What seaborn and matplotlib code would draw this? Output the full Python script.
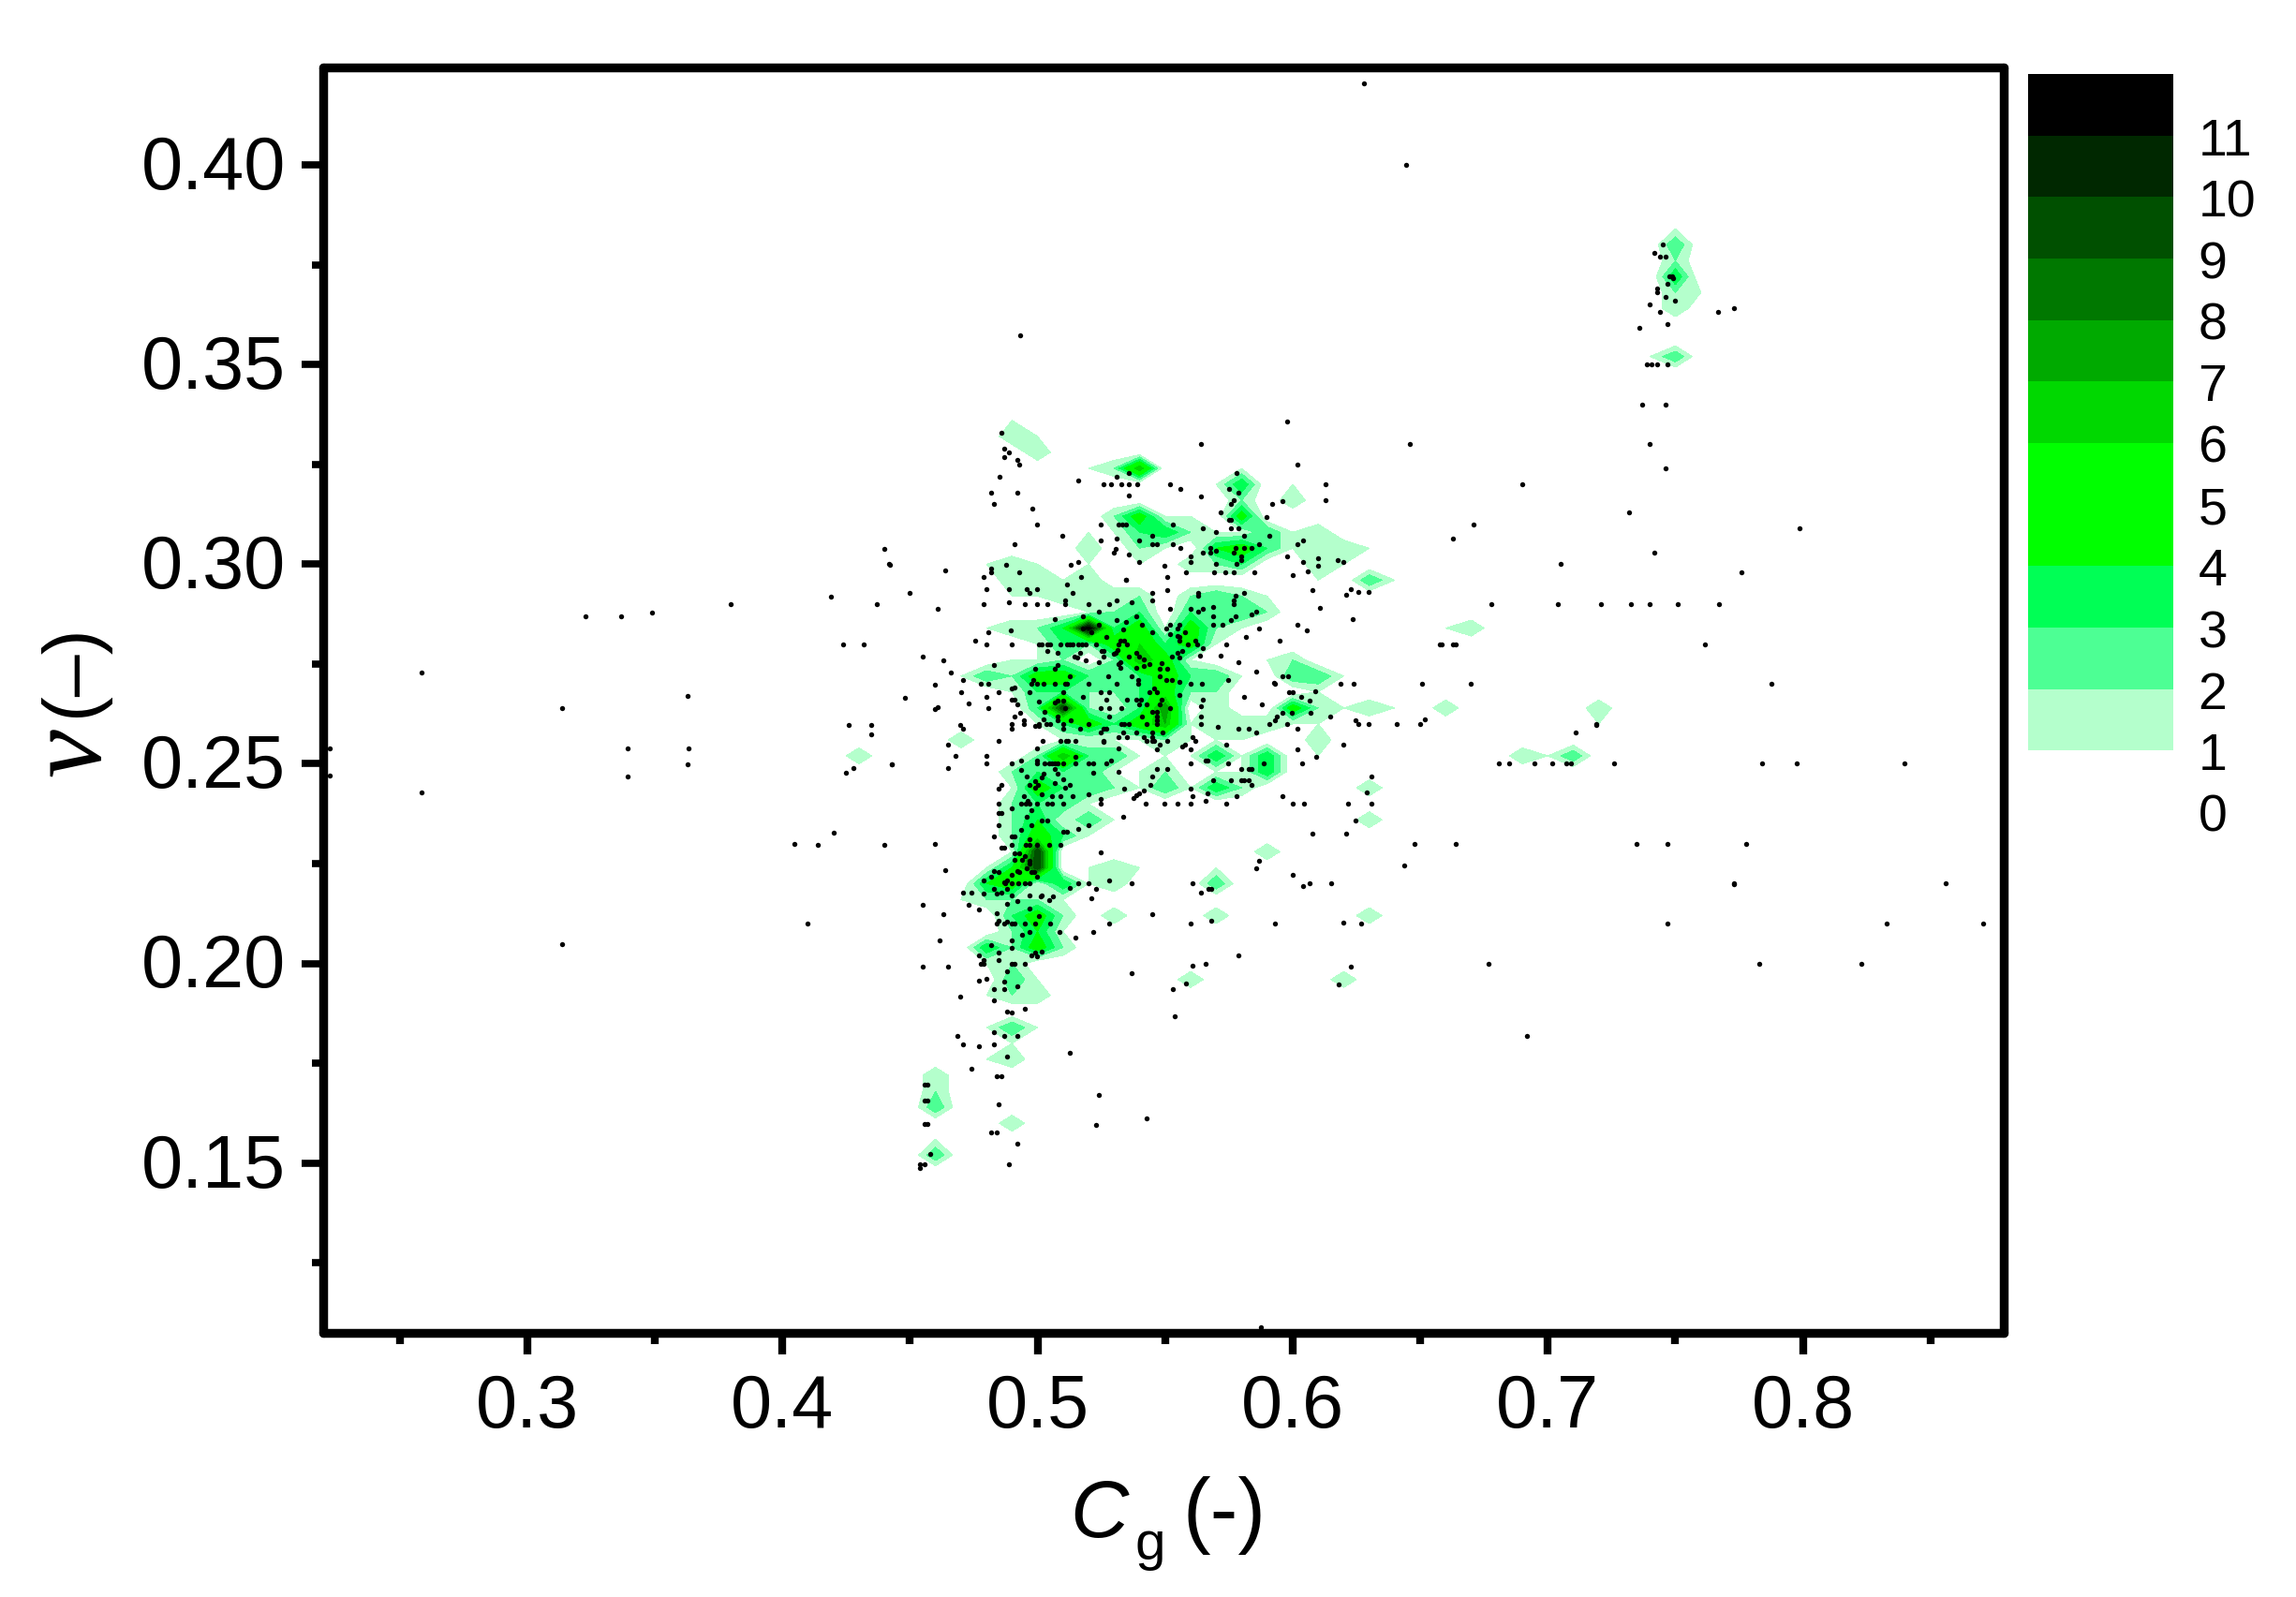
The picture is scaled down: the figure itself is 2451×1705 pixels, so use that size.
import matplotlib
matplotlib.use("Agg")
import matplotlib.pyplot as plt
from matplotlib.colors import ListedColormap, BoundaryNorm
from matplotlib.ticker import MultipleLocator, FormatStrFormatter
from matplotlib.transforms import ScaledTranslation
import numpy as np
import seaborn as sns


#------------------------------------------------------------------------------
#               Count grid (only non empty nodes are listed)
#------------------------------------------------------------------------------
grid_nu = [0.384, 0.380, 0.376, 0.372, 0.368, 0.364, 0.352, 0.336, 0.332, 0.328,
           0.324, 0.320, 0.316, 0.312, 0.308, 0.304, 0.300, 0.296, 0.292, 0.288,
           0.284, 0.280, 0.276, 0.272, 0.268, 0.264, 0.260, 0.256, 0.252, 0.248,
           0.244, 0.240, 0.236, 0.232, 0.228, 0.224, 0.220, 0.216, 0.212, 0.208,
           0.204, 0.200, 0.196, 0.192, 0.184, 0.180, 0.176, 0.172, 0.168, 0.164,
           0.160, 0.156, 0.152]

grid_cg = [
    [.75], [.75], [.75], [.75], [.75, .76], [.75], [.74, .75], [.49], [.49, .50], [.50],
    [.52, .53, .54, .58],
    [.57, .58, .60],
    [.58, .60],
    [.53, .54, .55, .56, .58],
    [.52, .53, .54, .55, .56, .57, .58, .59, .60, .61],
    [.52, .54, .55, .57, .58, .59, .60, .61, .62, .63],
    [.48, .49, .50, .52, .54, .56, .57, .58, .61, .62],
    [.49, .50, .51, .52, .61, .63, .64],
    [.49, .50, .51, .52, .53, .54, .56, .57, .58, .59],
    [.52, .53, .54, .56, .57, .58, .59],
    [.48, .49, .50, .51, .52, .53, .54, .55, .56, .57, .58, .66, .67],
    [.50, .51, .52, .53, .54, .55, .56, .57, .58],
    [.49, .50, .51, .53, .54, .55, .56, .59, .60],
    [.47, .48, .49, .50, .51, .52, .53, .54, .55, .56, .57, .58, .60, .61, .62],
    [.49, .50, .51, .52, .53, .54, .55, .56, .57, .61],
    [.50, .51, .52, .53, .54, .55, .57, .60, .61, .62, .63, .64, .66, .72],
    [.50, .51, .52, .53, .54, .55, .56, .57, .58, .59, .60, .61, .72],
    [.47, .51, .52, .53, .54, .55, .56, .57, .58, .61],
    [.43, .50, .51, .52, .53, .54, .55, .56, .57, .58, .59, .61, .69, .70, .71],
    [.49, .50, .51, .52, .53, .54, .55, .57, .58, .59],
    [.49, .50, .51, .52, .53, .54, .55, .56, .57, .58, .63],
    [.49, .50, .51, .52],
    [.49, .50, .51, .52, .53, .63],
    [.49, .50, .51, .52],
    [.49, .50, .59],
    [.48, .49, .50, .52, .53, .54, .57],
    [.48, .49, .50, .51, .52, .53, .57],
    [.47, .48, .49, .50, .51],
    [.49, .50, .51, .53, .57, .63],
    [.49, .50, .51],
    [.48, .49, .50, .51],
    [.48, .49],
    [.49, .50, .56, .62],
    [.48, .49, .50],
    [.48, .49, .50],
    [.49],
    [.48, .49],
    [.46], [.46], [.46], [.49], [.46], [.46],
]

grid_n = [
    [1], [3], [2], [4], [2, 1], [2], [1, 3], [1], [2, 1], [2],
    [1, 2, 7, 1],
    [1, 4, 1],
    [2, 2],
    [2, 5, 1, 1, 5],
    [1, 1, 3, 4, 2, 1, 1, 3, 1, 2],
    [2, 2, 1, 4, 5, 3, 1, 2, 2, 1],
    [1, 2, 1, 1, 1, 2, 2, 3, 2, 1],
    [2, 2, 1, 2, 1, 3, 1],
    [1, 1, 2, 2, 2, 2, 2, 3, 2, 1],
    [1, 2, 3, 3, 3, 3, 2],
    [1, 2, 2, 4, 12, 3, 5, 1, 5, 2, 1, 1, 2],
    [1, 3, 2, 5, 6, 3, 5, 1, 1],
    [1, 1, 2, 2, 7, 5, 1, 1, 2],
    [1, 3, 2, 5, 5, 3, 3, 3, 5, 3, 3, 1, 3, 3, 1],
    [1, 3, 3, 2, 2, 3, 5, 2, 2, 1],
    [3, 10, 2, 1, 3, 8, 2, 5, 2, 1, 2, 1, 2, 2],
    [1, 3, 5, 3, 5, 7, 1, 2, 2, 2, 1, 1, 1],
    [2, 1, 1, 1, 1, 2, 1, 1, 1, 2],
    [2, 2, 7, 3, 3, 1, 1, 1, 4, 1, 4, 1, 2, 1, 3],
    [2, 3, 3, 3, 1, 1, 2, 1, 1, 4],
    [1, 5, 3, 3, 2, 1, 3, 1, 4, 2, 2],
    [2, 3, 3, 1],
    [2, 4, 1, 3, 1, 2],
    [2, 5, 3, 1],
    [1, 10, 2],
    [1, 4, 10, 1, 2, 1, 1],
    [4, 5, 1, 4, 1, 2, 3],
    [1, 2, 2, 2, 1],
    [3, 5, 2, 2, 2, 2],
    [2, 4, 1],
    [4, 2, 5, 2],
    [1, 2],
    [3, 1, 2, 2],
    [1, 2, 2],
    [1, 3, 1],
    [1],
    [1, 2],
    [2], [2], [3], [2], [1], [3],
]

band_levels = [1, 2, 3, 4, 6, 7, 8, 9, 10, 11, 12]
band_colors = ["#B4FFCC", "#4DFF94", "#00FF55", "#00FF00", "#00D800", "#00AA00",
               "#007800", "#005000", "#002800", "#000000"]
bar_labels = ["0", "1", "2", "3", "4", "5", "6", "7", "8", "9", "10", "11"]

#------------------------------------------------------------------------------
#               Measured points
#------------------------------------------------------------------------------
# rows where many points share one value
row_nu = [0.35, 0.32, 0.31, 0.29, 0.28, 0.27, 0.26, 0.25, 0.24, 0.23, 0.22, 0.21, 0.20]
row_cg = [
    [.7389, .7408, .7429, .7469],
    [.5258, .5289, .5329, .5358, .5389, .6128],
    [.4997, .5249, .5319, .5333, .5347, .5530],
    [.4369, .6778, .7038, .7209, .7327, .7400, .7510, .7669],
    [.480, .490, .5007, .5017, .5038, .505, .5089, .5114, .5126, .5139, .516, .5174,
     .5188, .5229, .5319, .535, .5588, .5627, .5739, .6577, .6585, .6628, .6640, .7616],
    [.4779, .4808, .4977, .4997, .5025, .5068, .5108, .5117, .5199, .5309, .5396,
     .5599, .5645, .5931, .6188, .6238, .6508, .6699, .7878],
    [.4897, .4948, .5007, .5034, .505, .5099, .5199, .5328, .534, .5358, .5427, .5467,
     .5639, .5910, .5979, .6258, .6297, .6408, .6499, .7188],
    [.48, .4899, .4997, .5029, .5044, .5056, .5068, .508, .5099, .5148, .5199, .5217,
     .5269, .5599, .5747, .5887, .6038, .6809, .6848, .6947, .7018, .7074, .7089,
     .7258, .7839, .7977, .8399],
    [.4848, .4937, .4952, .4968, .4997, .5038, .5058, .5099, .5248, .5425, .5498,
     .5548, .5599, .5738, .6, .6046, .6218, .6309],
    [.4597, .4048, .6638, .7348, .7468, .7779, .6478],
    [.4873, .4897, .4924, .4949, .4968, .5159, .5199, .5368, .5609, .6068, .6149,
     .7728, .8558],
    [.4097, .4839, .4869, .4897, .4909, .4949, .4989, .5048, .5279, .5599, .5930,
     .6268, .7468, .8328, .8707],
    [.4777, .4787, .4897, .4909, .4949, .5658, .6769, .7828, .8228],
]

points_top = [
    (.628, .4203), (.6446, .40), (.493, .3572), (.7449, .3801), (.7419, .3780), (.7438, .3770),
    (.7460, .3770), (.7478, .3721), (.7488, .3722), (.7490, .3716), (.7469, .3701), (.7429, .3690),
    (.7429, .3680), (.7460, .3669), (.7499, .3660), (.7400, .3651), (.7439, .3631), (.7668, .3631),
    (.7728, .3640), (.7469, .3601), (.7359, .3591), (.7368, .3400), (.7460, .3400), (.7400, .3300),
    (.7460, .3240), (.6898, .3200), (.7319, .3130), (.6710, .3099), (.7988, .3090), (.6629, .3063),
    (.7419, .3030), (.7049, .3000), (.7759, .2979), (.7188, .2598), (.7109, .2578), (.5877, .1090),
]

points_upper = [
    (.5979, .3357), (.4858, .3330), (.5639, .3300), (.6458, .3300), (.4869, .3289), (.4889, .3280),
    (.4869, .3269), (.4919, .3260), (.4928, .3249), (.6020, .3249), (.5780, .3229), (.5358, .3229),
    (.5309, .3219), (.4850, .3220), (.5159, .3210), (.5518, .3200), (.5559, .3189), (.5749, .3189),
    (.4817, .3180), (.4919, .3180), (.5789, .3180), (.5358, .3172), (.5639, .3170), (.5768, .3160),
    (.5959, .3159), (.6128, .3160), (.5757, .3150), (.4829, .3150), (.5919, .3150), (.4978, .3139),
    (.5718, .3129), (.5898, .3119), (.5749, .3110), (.5759, .3110), (.5649, .3090), (.5757, .3090),
    (.5789, .3090), (.5698, .3080), (.5450, .3071), (.5810, .3071), (.5909, .3071), (.5098, .3070),
    (.5309, .3064), (.5249, .3060), (.5398, .3060), (.6039, .3060), (.4909, .3050), (.5449, .3050),
    (.5467, .3050), (.5530, .3050), (.5869, .3050), (.6020, .3050), (.5559, .3040), (.5308, .3039),
    (.5677, .3040), (.5778, .3040), (.5810, .3040), (.5839, .3040), (.5298, .3030), (.5649, .3030),
    (.5677, .3030), (.5698, .3033), (.5768, .3030), (.5358, .3024), (.5600, .3020), (.5799, .3020),
    (.5979, .3020), (.6098, .3016), (.5799, .3010), (.5600, .3005), (.6176, .3010), (.6197, .3005),
    (.6039, .3005), (.5398, .3005), (.5780, .3000), (.5698, .3000), (.5159, .3006), (.5129, .2998),
    (.4878, .2999), (.4817, .2990), (.4638, .2985), (.6098, .2995), (.5499, .2995), (.442, .2999),
    (.4817, .2979), (.4928, .2979), (.5580, .2979), (.5691, .2979), (.5737, .2979), (.5768, .2979),
    (.5848, .2979), (.6058, .2982), (.6000, .2973), (.4789, .2969), (.5169, .2969), (.5508, .2967),
    (.5347, .2960), (.5346, .2961), (.5117, .2949),
]

points_core_a = [
    (.4799, .2938), (.4889, .2938), (.4958, .2938), (.4998, .2938), (.4967, .2928), (.5139, .2928),
    (.5448, .2928), (.5629, .2928), (.5809, .2928), (.5509, .2936), (.6077, .2935), (.6228, .2938),
    (.6257, .2930), (.6298, .2930), (.6208, .2924), (.5629, .2920), (.5778, .2920), (.5768, .2909),
    (.5108, .2909), (.5309, .2909), (.5448, .2909), (.4787, .2900), (.4888, .2905), (.4949, .2900),
    (.4997, .2900), (.5038, .2900), (.5108, .2900), (.5199, .2900), (.5279, .2900), (.5368, .2905),
    (.5768, .2900), (.5518, .2889), (.5599, .2889), (.5649, .2889), (.5687, .2892), (.6108, .2890),
    (.5239, .2880), (.5629, .2880), (.5857, .2880), (.5837, .2873), (.5778, .2869), (.5687, .2869),
    (.5388, .2869), (.5757, .2859), (.5309, .2859), (.5348, .2855), (.5068, .2862), (.6237, .2862),
    (.5179, .2869), (.5239, .2849), (.5408, .2849), (.5518, .2849), (.5557, .2849), (.5687, .2849),
    (.5726, .2849), (.6018, .2848), (.5506, .2838), (.5548, .2838), (.4896, .2835), (.5179, .2838),
    (.5337, .2836), (.5868, .2838), (.6057, .2835), (.4808, .2829), (.5209, .2829), (.5448, .2829),
    (.5578, .2829), (.5269, .2819), (.5518, .2824), (.5548, .2820), (.5557, .2819), (.5817, .2819),
    (.4756, .2808), (.5325, .2808), (.5340, .2808), (.5557, .2808), (.5618, .2808), (.5947, .2808),
    (.5649, .2789), (.5252, .2783), (.5258, .2783), (.5313, .2785), (.5567, .2783), (.5038, .2783),
    (.5388, .2779), (.5306, .2779), (.5078, .2777), (.5168, .2779), (.5548, .2777), (.5298, .2775),
    (.5258, .2769), (.5145, .2769), (.5157, .2767), (.5398, .2769), (.5356, .2769), (.5528, .2769),
    (.5557, .2767), (.5638, .2772), (.5716, .2772), (.5188, .2760), (.5417, .2762), (.5787, .2755),
    (.5239, .2755), (.5487, .2753), (.5325, .2755), (.5317, .2750), (.5437, .2750), (.5078, .2748),
    (.4829, .2748), (.5417, .2744), (.5388, .2740), (.5068, .2739), (.5325, .2740), (.5478, .2739),
    (.5509, .2739), (.4989, .2738), (.5858, .2730), (.5127, .2719), (.5278, .2719), (.5368, .2719),
    (.5478, .2719), (.4982, .2711), (.5396, .2709), (.5506, .2709), (.5528, .2709), (.5557, .2705),
    (.5747, .2709), (.5959, .2719), (.5983, .2719), (.5928, .2703),
]

points_core_b = [
    (.5457, .2689), (.4897, .2689), (.4909, .2691), (.5248, .2679), (.5279, .2679), (.5437, .2679),
    (.5468, .2679), (.4848, .2679), (.4968, .2679), (.5099, .2679), (.5986, .2679), (.6, .2679),
    (.6088, .2681), (.5557, .2673), (.4799, .2668), (.5178, .2668), (.5810, .2668), (.6034, .2668),
    (.4897, .2660), (.4909, .2660), (.5007, .2656), (.5077, .2658), (.5099, .2658), (.5269, .2660),
    (.5349, .2660), (.5388, .2660), (.5407, .2660), (.5487, .2660), (.5649, .2660), (.6067, .2658),
    (.4919, .2648), (.5068, .2654), (.5398, .2650), (.5428, .2650), (.5478, .2648), (.5878, .2650),
    (.5639, .2644), (.4808, .2639), (.5108, .2639), (.5248, .2639), (.5279, .2639), (.5327, .2639),
    (.5518, .2639), (.5029, .2631), (.4930, .2629), (.5450, .2630), (.5467, .2630), (.5998, .2629),
    (.5959, .2629), (.6069, .2629), (.4909, .2619), (.5279, .2619), (.5408, .2619), (.5080, .2619),
    (.5467, .2619), (.5639, .2619), (.6148, .2619), (.5939, .2619), (.5025, .2611), (.4948, .2608),
    (.5078, .2608), (.5467, .2609), (.5930, .2609), (.6248, .2609), (.6518, .2611), (.5129, .2609),
    (.4897, .2589), (.4989, .2594), (.5007, .2594), (.5099, .2589), (.5168, .2589), (.5258, .2589),
    (.5270, .2589), (.5708, .2593), (.5786, .2589), (.5829, .2589), (.6019, .2589), (.5249, .2578),
    (.5337, .2578), (.5388, .2578), (.5448, .2578), (.5489, .2578), (.5858, .2578), (.5319, .2568),
    (.5349, .2568), (.5417, .2568), (.5448, .2568), (.5609, .2568), (.4848, .2558), (.5019, .2558),
    (.5089, .2558), (.5111, .2558), (.5120, .2558), (.5148, .2558), (.5258, .2558), (.5258, .2554),
    (.5429, .2558), (.5448, .2558), (.5457, .2558), (.5509, .2558), (.5619, .2558), (.5478, .2548),
    (.5739, .2548), (.6197, .2548), (.5579, .2548), (.5567, .2544), (.4997, .2539), (.5319, .2539),
    (.5599, .2536), (.5468, .2536), (.6018, .2536), (.4799, .2521), (.5148, .2518), (.6091, .2518),
    (.4937, .2509), (.4997, .2509), (.5288, .2509), (.5658, .2509), (.5667, .2509), (.4937, .2484),
    (.5068, .2486), (.5319, .2481), (.5468, .2488), (.5509, .2488), (.5797, .2488), (.5829, .2488),
    (.5839, .2488), (.5078, .2476), (.5218, .2478), (.5025, .2476), (.4958, .2468), (.5448, .2468),
    (.6309, .2468), (.5017, .2467), (.5099, .2462), (.5688, .2458), (.5757, .2458), (.5797, .2458),
    (.5808, .2458), (.5829, .2458), (.4989, .2457), (.5068, .2453), (.4968, .2447), (.5001, .2447),
    (.4989, .2441), (.5108, .2441), (.5127, .2447), (.5441, .2447), (.5599, .2438), (.5839, .2447),
    (.4858, .2447), (.4848, .2437), (.5341, .2437), (.6289, .2429), (.5017, .2423), (.5199, .2423),
    (.5417, .2433), (.5398, .2427), (.5388, .2421), (.5667, .2427), (.4946, .2418), (.5058, .2418),
    (.5089, .2418), (.5139, .2418), (.5248, .2412), (.5376, .2415), (.5609, .2418), (.5781, .2418),
    (.5959, .2418), (.4962, .2408), (.5659, .2408),
]

points_lower = [
    (.4897, .2389), (.4977, .2384), (.4848, .2378), (.4858, .2378), (.5337, .2368), (.4956, .2368),
    (.5017, .2359), (.5038, .2357), (.6248, .2357), (.4848, .2347), (.4977, .2347), (.5199, .2347),
    (.5160, .2338), (.4937, .2334), (.5099, .2330), (.5117, .2330), (.6077, .2326), (.6208, .2326),
    (.4897, .2319), (.4909, .2319), (.4829, .2319), (.4968, .2310), (.4897, .2298), (.4952, .2298),
    (.4968, .2298), (.4997, .2298), (.5047, .2298), (.5089, .2298), (.4858, .2290), (.4869, .2290),
    (.4909, .2277), (.5249, .2278), (.4927, .2277), (.4950, .2269), (.4909, .2259), (.4940, .2259),
    (.4968, .2257), (.4968, .2251), (.5869, .2258), (.5857, .2239), (.6438, .2246), (.4958, .2238),
    (.4919, .2232), (.4928, .2229), (.4829, .2232), (.4848, .2229), (.4977, .2230), (.4987, .2230),
    (.4897, .2222), (.4997, .2218), (.4818, .2218), (.6, .2222), (.5279, .2207), (.4787, .2207),
    (.4879, .2207), (.4869, .2203), (.6039, .2195), (.5127, .2189), (.5228, .2188), (.5668, .2188),
    (.568, .2188), (.4829, .2188), (.4879, .2188), (.4858, .2178), (.4839, .2174), (.4787, .2175),
    (.5640, .2178), (.4968, .2171), (.4897, .2170), (.5017, .2171), (.5059, .2168), (.5013, .2168),
    (.5209, .2163), (.5047, .2158), (.4919, .2156), (.4879, .2149), (.4968, .2138), (.4769, .2136),
    (.4839, .2127), (.5007, .2119), (.5448, .2123), (.4848, .2107), (.4879, .2105), (.5680, .2107),
    (.6198, .2102), (.5087, .2078), (.5219, .2078), (.4968, .2078), (.4938, .2072), (.5148, .2065),
    (.4897, .2057), (.4818, .2046), (.4848, .2028), (.4897, .2038), (.4769, .2021), (.4989, .2028),
    (.5017, .2030), (.4977, .2021), (.4997, .2017), (.5788, .2021), (.4787, .2009), (.4848, .2009),
    (.5609, .1994), (.6229, .1991), (.4879, .1980), (.5368, .1976), (.4769, .1958), (.4799, .1962),
    (.4869, .1955), (.5580, .1949), (.6179, .1948), (.4919, .1942), (.4829, .1937), (.4869, .1937),
    (.5530, .1935), (.4829, .1907), (.4949, .1887), (.4879, .1879), (.4897, .1877), (.5539, .1867),
    (.4829, .1827), (.4869, .1818), (.4919, .1818), (.4769, .1792), (.4829, .1797), (.5127, .1776),
    (.4879, .1767), (.4839, .1718), (.4858, .1718), (.5240, .1670), (.4848, .1647), (.5429, .1612),
    (.4556, .1697), (.4570, .1697), (.4556, .1657), (.4570, .1657), (.4556, .1598), (.4570, .1598),
    (.4817, .1577), (.4839, .1577), (.4919, .1549), (.5229, .1595), (.4579, .1524), (.4538, .1497),
    (.4558, .1497), (.4538, .1487), (.4889, .1497), (.7728, .2198), (.6918, .1818),
]

points_left = [
    (.3229, .2869), (.3368, .2869), (.3487, .2879), (.3799, .2900), (.2585, .2729), (.3629, .2669),
    (.3137, .2639), (.2224, .2539), (.3393, .2539), (.3632, .2539), (.3629, .2498), (.2224, .2470),
    (.3393, .2468), (.2585, .2428), (.3137, .2048), (.4189, .2919), (.4400, .3039), (.4418, .3000),
    (.4238, .2799), (.4319, .2799), (.4259, .2598), (.4349, .2598), (.4349, .2574), (.4279, .2489),
    (.4249, .2478), (.4429, .2498), (.4139, .2297), (.4200, .2327), (.4399, .2297), (.4499, .2929),
    (.4608, .2889), (.4549, .2768), (.4629, .2759), (.4659, .2729), (.4708, .2709), (.4597, .2698),
    (.4701, .2680), (.4479, .2666), (.4728, .2652), (.4597, .2637), (.4608, .2641), (.4698, .2598),
    (.4708, .2589), (.4649, .2549), (.4678, .2519), (.4428, .2498), (.4649, .2489), (.4638, .2234),
    (.4708, .2178), (.4739, .2178), (.4549, .2147), (.4728, .2148), (.4629, .2124), (.4617, .2058),
    (.4549, .1991), (.4649, .1991), (.4698, .1917), (.4687, .1818), (.4708, .1798), (.4739, .1737),
]

#------------------------------------------------------------------------------
#               Plot
#------------------------------------------------------------------------------
sns.set_theme(style="ticks", rc={"axes.linewidth": 6.8,
                                 "xtick.major.width": 6, "ytick.major.width": 5.5,
                                 "xtick.minor.width": 6, "ytick.minor.width": 5.5,
                                 "text.color": "black", "axes.labelcolor": "black",
                                 "xtick.color": "black", "ytick.color": "black"})
plt.rcParams["font.family"] = ["Liberation Sans", "DejaVu Sans"]

W, H = 2451, 1706
fig = plt.figure(figsize=(W / 100, H / 100), dpi=100)
ax = fig.add_axes([345 / W, 1 - 1424 / H, (2139 - 345) / W, (1424 - 73) / H])

# grid nodes: 0.01 apart in Cg, 0.004 apart in nu
x_nodes = np.round(np.arange(0.22, 0.8801, 0.01), 2)
y_nodes = np.round(np.arange(0.104, 0.4281, 0.004), 3)
counts = np.zeros((len(y_nodes), len(x_nodes)))
for nu, cgs, ns in zip(grid_nu, grid_cg, grid_n):
    for cg, n in zip(cgs, ns):
        counts[np.argmin(abs(y_nodes - nu)), np.argmin(abs(x_nodes - cg))] = n

ax.contourf(x_nodes, y_nodes, counts, levels=band_levels, colors=band_colors)

cg_all, nu_all = [], []
for nu, cgs in zip(row_nu, row_cg):
    cg_all += list(cgs)
    nu_all += [nu] * len(cgs)
for group in (points_top, points_upper, points_core_a, points_core_b, points_lower, points_left):
    cg_all += [p[0] for p in group]
    nu_all += [p[1] for p in group]
sns.scatterplot(x=cg_all, y=nu_all, ax=ax, s=15, color="black", linewidth=0, zorder=3, clip_on=False)

ax.set_xlim(0.22, 0.8787)
ax.set_ylim(0.1075, 0.4244)
ax.xaxis.set_major_locator(MultipleLocator(0.1))
ax.xaxis.set_minor_locator(MultipleLocator(0.05))
ax.yaxis.set_major_locator(MultipleLocator(0.05))
ax.yaxis.set_minor_locator(MultipleLocator(0.025))
ax.xaxis.set_major_formatter(FormatStrFormatter("%.1f"))
ax.yaxis.set_major_formatter(FormatStrFormatter("%.2f"))
ax.tick_params(which="major", length=16.5, labelsize=57, pad=12, color="black")
ax.tick_params(axis="x", which="major", pad=14)
ax.tick_params(which="minor", length=8.5, color="black")
for side in ax.spines.values():
    side.set_visible(True)
    side.set_color("black")
    side.set_capstyle("round")
lift = ScaledTranslation(0, 3 / 72, fig.dpi_scale_trans)
for label in ax.get_yticklabels():
    label.set_transform(label.get_transform() + lift)

fig.text(1142 / W, 1 - 1641 / H, "C", fontsize=62, style="italic", ha="left", va="baseline")
fig.text(1212 / W, 1 - 1665 / H, "g", fontsize=42, ha="left", va="baseline")
fig.text(1262 / W, 1 - 1641 / H, "(-)", fontsize=64, ha="left", va="baseline")
fig.text(78 / W, 1 - 803 / H, "\u03bd", fontsize=84, rotation=90, ha="center", va="center",
         family="Liberation Serif", style="italic")
fig.text(78 / W, 1 - 765 / H, "(\u2013)", fontsize=58, rotation=90, ha="center", va="bottom")

# colour scale, white band 0-1 sits under the coloured ones
cax = fig.add_axes([2165 / W, 1 - 868 / H, (2320 - 2165) / W, (868 - 80) / H])
bar_edges = [0] + band_levels
cmap = ListedColormap(["#FFFFFF"] + band_colors)
norm = BoundaryNorm(bar_edges, cmap.N)
cax.pcolormesh([0, 1], bar_edges, np.array(bar_edges[:-1], dtype=float).reshape(-1, 1),
               cmap=cmap, norm=norm, shading="flat")
cax.set_xticks([])
cax.yaxis.tick_right()
cax.set_yticks(range(len(bar_labels)))
cax.set_yticklabels(bar_labels)
cax.tick_params(axis="y", length=0, labelsize=40, pad=19)
cax.set_ylim(0, 12)
for side in cax.spines.values():
    side.set_visible(False)

plt.savefig("out.png", dpi=100)
